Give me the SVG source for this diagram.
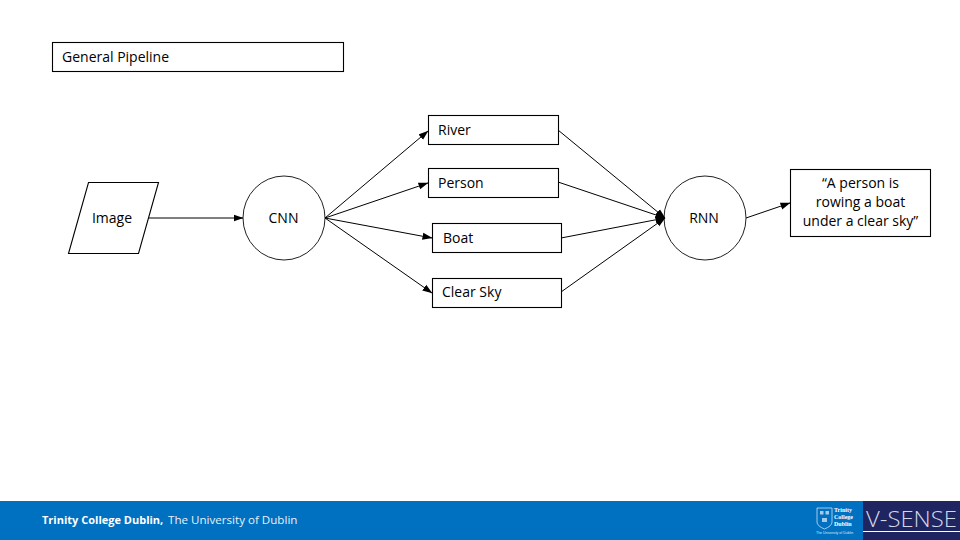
<svg xmlns="http://www.w3.org/2000/svg" width="960" height="540" viewBox="0 0 960 540">
<style>
.s{fill:#fff;stroke:#000;stroke-width:1.1}
.c{fill:#fff;stroke:#222;stroke-width:1}
.t{font-family:"Open Sans","Noto Sans","Liberation Sans",sans-serif;font-size:14px;fill:#000}
.m{text-anchor:middle}
.l{stroke:#000;stroke-width:1;fill:none;marker-end:url(#a)}
</style>
<defs><marker id="a" markerUnits="userSpaceOnUse" markerWidth="10" markerHeight="8" refX="9.500" refY="4" orient="auto"><path d="M0 0.500L10 4L0 7.500Z" fill="#000"/></marker></defs>
<rect width="960" height="540" fill="#fff"/>
<g id="title"><rect class="s" x="52.500" y="42.500" width="291" height="29"/><text class="t" x="62" y="62">General Pipeline</text></g>
<g id="image"><path class="s" d="M88.500 182.500H158.500L138.500 253.500H68.500Z"/><text class="t m" x="112" y="223">Image</text></g>
<g id="cnn"><ellipse class="c" cx="284" cy="218" rx="41" ry="42"/><text class="t m" x="283.500" y="223">CNN</text></g>
<g id="river"><rect class="s" x="428.500" y="115.500" width="130" height="29"/><text class="t" x="438" y="135">River</text></g>
<g id="person"><rect class="s" x="428.500" y="168.500" width="130" height="29"/><text class="t" x="438" y="188">Person</text></g>
<g id="boat"><rect class="s" x="432.500" y="223.500" width="129" height="29"/><text class="t" x="443" y="243">Boat</text></g>
<g id="clearsky"><rect class="s" x="432.500" y="278.500" width="129" height="29"/><text class="t" x="442" y="297">Clear Sky</text></g>
<g id="rnn"><ellipse class="c" cx="705" cy="218" rx="41" ry="42"/><text class="t m" x="704" y="223">RNN</text></g>
<g id="caption"><rect class="s" x="790.500" y="169.500" width="140" height="67"/><text class="t m" x="860.500" y="188">“A person is</text><text class="t m" x="860.500" y="207">rowing a boat</text><text class="t m" x="860.500" y="226">under a clear sky”</text></g>
<g id="connectors">
<line class="l" x1="149" y1="218" x2="243" y2="218"/>
<line class="l" x1="325" y1="218" x2="428" y2="131"/>
<line class="l" x1="325" y1="218" x2="428" y2="183"/>
<line class="l" x1="325" y1="218" x2="432" y2="238"/>
<line class="l" x1="325" y1="218" x2="432" y2="293"/>
<line class="l" x1="558" y1="130" x2="665" y2="218"/>
<line class="l" x1="558" y1="182" x2="665" y2="218"/>
<line class="l" x1="561" y1="238" x2="665" y2="218"/>
<line class="l" x1="561" y1="292" x2="665" y2="218"/>
<line class="l" x1="746" y1="218" x2="790" y2="203"/>
</g>
<g id="footer">
<rect x="0" y="501" width="960" height="39" fill="#0070c0"/>
<text x="42" y="524" font-family="'Open Sans','Noto Sans',sans-serif" font-size="11" fill="#fff" font-weight="700">Trinity College Dublin,</text>
<text x="168" y="524" font-family="'Open Sans','Noto Sans',sans-serif" font-size="11.600" fill="#e8f0f8">The University of Dublin</text>
<rect x="863" y="501" width="97" height="39" fill="#1f2560"/>
<text x="866" y="527" font-family="'Open Sans','Noto Sans',sans-serif" font-size="22" font-weight="300" fill="#d5d8ea" textLength="91" lengthAdjust="spacingAndGlyphs">V-SENSE</text>
<rect x="863" y="531" width="97" height="1" fill="#fff"/>
<path d="M817 508H832V522Q832 526 824.500 529Q817 526 817 522Z" fill="none" stroke="#cfe0f2" stroke-width="0.800"/>
<path d="M820 511H823.500V514.500H820ZM825.500 511H829V514.500H825.500ZM822 518H827V522H822Z" fill="#cfe0f2" opacity="0.800"/>
<text x="834" y="512" font-family="'Liberation Serif',serif" font-size="6" font-weight="700" fill="#fff">Trinity</text>
<text x="834" y="519" font-family="'Liberation Serif',serif" font-size="6" font-weight="700" fill="#fff">College</text>
<text x="834" y="526" font-family="'Liberation Serif',serif" font-size="6" font-weight="700" fill="#fff">Dublin</text>
<text x="816" y="534" font-family="'Liberation Sans',sans-serif" font-size="3.500" fill="#dfe9f5">The University of Dublin</text>
</g>
</svg>
